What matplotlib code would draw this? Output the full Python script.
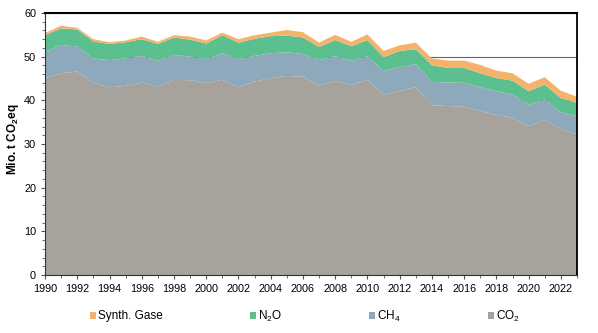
import numpy as np
import matplotlib
matplotlib.use('Agg')
import matplotlib.pyplot as plt
from matplotlib.patches import Patch
from matplotlib.ticker import MultipleLocator

plt.rcParams['font.family'] = ['Liberation Sans', 'DejaVu Sans']
plt.rcParams['mathtext.fontset'] = 'custom'
plt.rcParams['mathtext.rm'] = 'Liberation Sans'
plt.rcParams['mathtext.it'] = 'Liberation Sans:italic'
plt.rcParams['mathtext.bf'] = 'Liberation Sans:bold'

years = np.arange(1990, 2024)

# Mio. t CO2eq je Gas
co2 = [45.1, 46.2, 46.6, 44.0, 43.0, 43.3, 44.1, 43.0, 44.7, 44.6,
       44.0, 44.7, 43.0, 44.3, 45.1, 45.6, 45.4, 43.4, 44.4, 43.5,
       44.7, 41.3, 42.2, 43.0, 38.9, 38.7, 38.5, 37.6, 36.7, 36.0,
       34.1, 35.5, 33.4, 32.2]
ch4 = [6.0, 6.5, 5.7, 5.6, 6.2, 6.3, 6.1, 6.0, 5.7, 5.4,
       5.4, 6.1, 6.4, 5.9, 5.7, 5.4, 5.2, 5.8, 5.7, 5.6,
       5.4, 5.4, 5.4, 5.3, 5.3, 5.4, 5.5, 5.4, 5.4, 5.3,
       4.9, 4.7, 3.9, 4.2]
n2o = [3.8, 3.8, 3.9, 3.9, 3.7, 3.7, 3.8, 3.9, 4.0, 3.9,
       3.6, 4.1, 3.8, 3.9, 3.9, 3.8, 3.8, 3.0, 3.7, 3.3,
       3.7, 3.2, 3.7, 3.4, 3.8, 3.3, 3.4, 3.2, 3.0, 3.2,
       3.1, 3.4, 3.2, 3.0]
synth = [0.5, 0.6, 0.4, 0.5, 0.4, 0.4, 0.6, 0.5, 0.5, 0.7,
         0.7, 0.6, 0.8, 0.8, 0.8, 1.3, 1.2, 1.0, 1.2, 1.0,
         1.3, 1.4, 1.3, 1.5, 1.6, 1.7, 1.7, 1.9, 1.7, 1.7,
         1.7, 1.7, 1.7, 1.4]

labels = ['CO$_2$', 'CH$_4$', 'N$_2$O', 'Synth. Gase']
colors = ['#a8a29d', '#8ea8bc', '#5cbf8f', '#f5b26a']

fig = plt.figure(figsize=(5.98, 3.33), dpi=100)
ax = fig.add_axes([0.0753, 0.174, 0.8896, 0.787])

ax.stackplot(years, co2, ch4, n2o, synth, colors=colors, linewidth=0, zorder=2)

ax.set_xlim(1990, 2023)
ax.set_ylim(0, 60)
ax.set_xticks(np.arange(1990, 2023, 2))
ax.xaxis.set_minor_locator(MultipleLocator(1))
ax.yaxis.set_major_locator(MultipleLocator(10))
ax.yaxis.set_minor_locator(MultipleLocator(2))
ax.tick_params(axis='both', which='major', labelsize=7.8, length=3, width=0.8, color='#555555')
ax.tick_params(axis='both', which='minor', length=2, width=0.6, color='#555555')

ax.yaxis.grid(True, color='#666666', linewidth=0.8)
ax.set_axisbelow(True)

for side in ['left', 'bottom', 'right']:
    ax.spines[side].set_linewidth(0.8)
    ax.spines[side].set_color('#333333')
ax.spines['top'].set_linewidth(1.5)
ax.spines['top'].set_color('black')
ax.spines['right'].set_linewidth(1.3)
ax.spines['right'].set_color('black')

ax.set_ylabel(r'Mio. t CO$_\mathbf{2}$eq', fontsize=8.5, fontweight='bold')
ax.yaxis.set_label_coords(-0.046, 0.52)

# Legende unten
handles = [Patch(facecolor=colors[i], edgecolor='none') for i in [3, 2, 1, 0]]
names = [labels[i] for i in [3, 2, 1, 0]]
fig.legend(handles, names, loc='center', bbox_to_anchor=(0.51, 0.051), ncol=4,
           frameon=False, fontsize=8.5, handlelength=0.5, handleheight=0.5,
           handletextpad=0.15, columnspacing=7.4)

plt.savefig('out.png', dpi=100)
